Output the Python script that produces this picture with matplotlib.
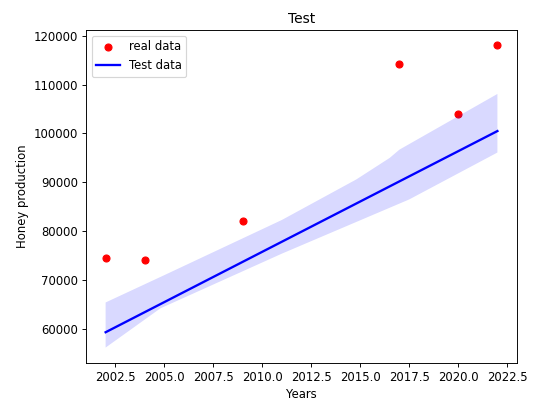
import matplotlib
matplotlib.use("Agg")
import matplotlib.pyplot as plt

# observed honey production
years = [2002, 2004, 2009, 2017, 2020, 2022]
honey = [74500, 74000, 82000, 114300, 103900, 118100]

# fitted trend
fit_years = [2002, 2022]
fit_values = [59300, 100500]

# confidence band edges
upper_years = [2002, 2005, 2011, 2014.8, 2016.5, 2017, 2022]
upper_values = [65400, 71000, 82300, 90600, 95000, 96700, 108100]
lower_years = [2002, 2004.8, 2011, 2017.5, 2022]
lower_values = [56160, 64200, 75400, 86500, 96100]

dpi = 83.33
fig = plt.figure(figsize=(533 / dpi, 403 / dpi), dpi=dpi)
ax = fig.add_axes([0.1614, 0.1, 0.8086, 0.8256])

ax.scatter(years, honey, color='red', label='real data')
ax.plot(fit_years, fit_values, color='blue', linewidth=2, label='Test data')

# band polygon: upper edge left to right, lower edge back
band_x = upper_years + lower_years[::-1]
band_y = upper_values + lower_values[::-1]
ax.fill(band_x, band_y, color='blue', alpha=0.15, linewidth=0)

ax.set_title('Test')
ax.set_xlabel('Years')
ax.set_ylabel('Honey production')
ax.legend(loc='upper left')

fig.savefig('out.png', dpi=dpi)
